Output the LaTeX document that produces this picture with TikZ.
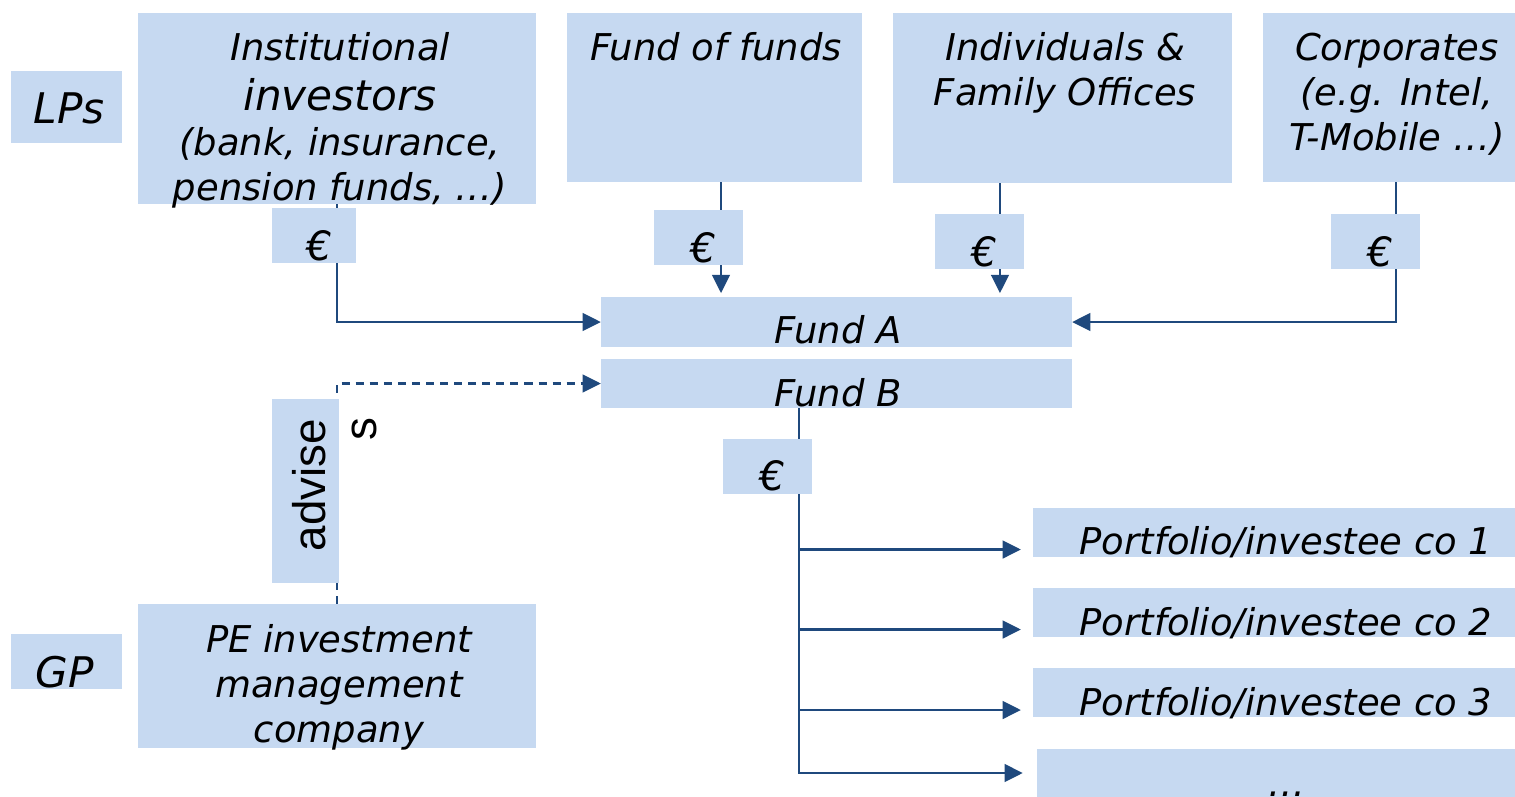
\documentclass[tikz,border=0pt]{standalone}
\usepackage{fontspec}
\setmainfont{DejaVu Sans}
\newfontfamily\advfont{Liberation Sans}
\usetikzlibrary{arrows.meta}
\definecolor{boxblue}{RGB}{198,217,241}
\definecolor{linkblue}{RGB}{31,73,125}

\tikzset{
	bluebox/.style={fill=boxblue, inner sep=0pt, outer sep=0pt},
	eurobox/.style={bluebox, minimum height=0.55cm, text height=0.52cm, text depth=0.03cm, font=\fontsize{11.5}{12}\selectfont\itshape},
	lbl/.style={inner sep=0pt, align=center, font=\fontsize{10.5}{12.8}\selectfont\itshape},
	flow/.style={draw=linkblue, line width=0.8pt, -{Triangle[length=5.2pt,width=5pt]}},
	advflow/.style={flow, line width=0.7pt, dash pattern=on 2.3pt off 1.7pt}
}

\begin{document}
\begin{tikzpicture}[x=0.01cm, y=-0.01cm]
	\useasboundingbox (0,0) rectangle (1515,796);

	\node[bluebox, minimum width=1.11cm, minimum height=0.72cm] (lps) at (66.5,107) {};
	\node[bluebox, minimum width=1.11cm, minimum height=0.55cm] (gp) at (66.5,661.5) {};
	\node[bluebox, minimum width=3.98cm, minimum height=1.91cm] (inst) at (337,108.5) {};
	\node[bluebox, minimum width=2.95cm, minimum height=1.69cm] (fof) at (714.5,97.5) {};
	\node[bluebox, minimum width=3.39cm, minimum height=1.70cm] (ind) at (1062.5,98) {};
	\node[bluebox, minimum width=2.52cm, minimum height=1.69cm] (corp) at (1389,97.5) {};
	\node[bluebox, minimum width=4.71cm, minimum height=0.50cm] (fundA) at (836.5,322) {};
	\node[bluebox, minimum width=4.71cm, minimum height=0.49cm] (fundB) at (836.5,383.5) {};
	\node[bluebox, minimum width=3.98cm, minimum height=1.44cm] (pe) at (337,676) {};
	\node[bluebox, minimum width=4.82cm, minimum height=0.49cm] (pf1) at (1274,532.5) {};
	\node[bluebox, minimum width=4.82cm, minimum height=0.49cm] (pf2) at (1274,612.5) {};
	\node[bluebox, minimum width=4.82cm, minimum height=0.49cm] (pf3) at (1274,692.5) {};
	\node[bluebox, minimum width=4.78cm, minimum height=0.48cm] (pf4) at (1276,773) {};

	% money flowing in from the LPs
	\coordinate (fofout) at ([xshift=0.065cm]fof.south);
	\coordinate (indout) at ([xshift=-0.625cm]ind.south);
	\coordinate (corpout) at ([xshift=0.07cm]corp.south);
	\draw[flow] (inst.south) |- (fundA.west);
	\draw[flow, shorten >=1.1pt] (fofout) -- (fofout |- fundA.north);
	\draw[flow, shorten >=1.1pt] (indout) -- (indout |- fundA.north);
	\draw[flow] (corpout) |- (fundA.east);

	\draw[advflow] (pe.north) |- (fundB.west);

	% money flowing out to the portfolio
	\coordinate (fbout) at ([xshift=-0.375cm]fundB.south);
	\coordinate (pf1in) at ([yshift=-0.17cm]pf1.west);
	\coordinate (pf2in) at ([yshift=-0.17cm]pf2.west);
	\coordinate (pf3in) at ([yshift=-0.175cm]pf3.west);
	\draw[flow, shorten >=3.4pt] (fbout) |- (pf1in);
	\draw[flow, shorten >=3.4pt] (fbout) |- (pf2in);
	\draw[flow, shorten >=3.4pt] (fbout) |- (pf3in);
	\draw[flow, shorten >=4pt] (fbout) |- (pf4.west);

	\node[eurobox, minimum width=0.84cm] (eur1) at (314,235.5) {\hspace{0.1cm}€};
	\node[eurobox, minimum width=0.89cm] (eur2) at (698.5,237.5) {\hspace{0.1cm}€};
	\node[eurobox, minimum width=0.89cm] (eur3) at (979.5,241.5) {\hspace{0.1cm}€};
	\node[eurobox, minimum width=0.89cm] (eur4) at (1375.5,241.5) {\hspace{0.1cm}€};
	\node[eurobox, minimum width=0.89cm] (eur5) at (767.5,466) {\hspace{0.1cm}€};
	\node[bluebox, minimum width=0.67cm, minimum height=1.84cm] (adv) at (305.5,491) {};

	\node[lbl, anchor=base, font=\fontsize{12}{14}\selectfont\itshape] (lpstxt) at (69,123) {LPs};
	\node[lbl, anchor=base, font=\fontsize{12}{14}\selectfont\itshape] (gptxt) at (65,687) {GP};
	\node[lbl, anchor=north] (insttxt) at (340,32) {Institutional\\[1.4pt]{\fontsize{12}{14}\selectfont investors}\\(bank, insurance,\\pension funds, …)};
	\node[lbl, anchor=north] (foftxt) at (716,32) {Fund of funds};
	\node[lbl, anchor=north] (indtxt) at (1065,32) {Individuals \&\\Family Offices};
	\node[lbl, anchor=north] (corptxt) at (1397,32.5) {Corporates\\(e.g. Intel,\\T-Mobile …)};
	\node[lbl, anchor=north] (petxt) at (339,624) {PE investment\\management\\company};
	\node[lbl, anchor=base] (fundAtxt) at (838,343) {Fund A};
	\node[lbl, anchor=base] (fundBtxt) at (838,406) {Fund B};
	\node[lbl, anchor=base] (pf1txt) at (1286,554) {Portfolio/investee co 1};
	\node[lbl, anchor=base] (pf2txt) at (1286,635) {Portfolio/investee co 2};
	\node[lbl, anchor=base] (pf3txt) at (1286,715) {Portfolio/investee co 3};
	\node[lbl, anchor=base] (pf4txt) at (1287,796) {…};
	\node[anchor=base, rotate=90, inner sep=0pt, font=\fontsize{13}{14}\selectfont\advfont] (advtxt) at (325,485) {advise};
	\node[anchor=base, rotate=90, inner sep=0pt, font=\fontsize{13}{14}\selectfont\advfont] (advs) at (376,429) {s};
\end{tikzpicture}
\end{document}
